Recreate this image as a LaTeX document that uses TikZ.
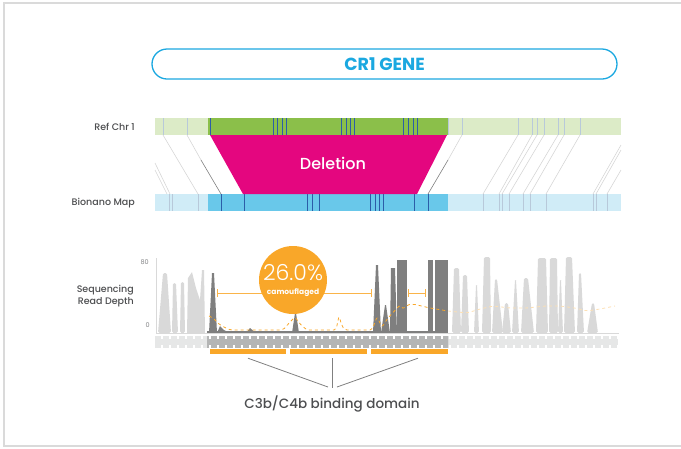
\documentclass[tikz,border=0pt]{standalone}
\usepackage{fontspec}
\setmainfont{Poppins}
\newfontfamily\medfont{Poppins Medium}
\newfontfamily\lightfont{Poppins Light}
\usepackage{tikz}
\usetikzlibrary{calc,arrows.meta}

\definecolor{framegray}{HTML}{DADADA}
\definecolor{crblue}{HTML}{1BA8E0}
\definecolor{refgreen}{HTML}{DCEBC7}
\definecolor{delgreen}{HTML}{8BBF4A}
\definecolor{mapblue}{HTML}{D0ECF7}
\definecolor{delblue}{HTML}{69C8EA}
\definecolor{tickblue}{HTML}{2C5DA8}
\definecolor{lighttick}{HTML}{B8C9DA}
\definecolor{alignline}{HTML}{D6D6D6}
\definecolor{delpink}{HTML}{E4067F}
\definecolor{camorange}{HTML}{F9A729}
\definecolor{covlight}{HTML}{D9D9D9}
\definecolor{covdark}{HTML}{7F7F7F}
\definecolor{exlight}{HTML}{E6E7E7}
\definecolor{exdark}{HTML}{B4B5B5}
\definecolor{labelgray}{HTML}{4D4E50}

\tikzset{
  rowlabel/.style={anchor=east, inner sep=0pt, text=labelgray, font=\medfont\fontsize{9.5}{12}\selectfont},
  axislabel/.style={anchor=east, inner sep=0pt, text=labelgray!70, font=\fontsize{6.5}{7}\selectfont},
  refbar/.style={fill=refgreen},
  mapbar/.style={fill=mapblue},
  darktick/.style={draw=tickblue, line width=0.9pt},
  lighttk/.style={draw=lighttick, line width=0.7pt},
  aligned/.style={draw=alignline, line width=0.6pt},
  dombar/.style={fill=camorange, inner sep=0pt, minimum height=5pt},
  bracket/.style={draw=camorange!85, line width=0.9pt, {Bar[width=8pt]}-{Bar[width=8pt]}},
}

\begin{document}
\begin{tikzpicture}[x=1pt, y=-1pt]
    \useasboundingbox (0,0) rectangle (681,448);
    % frame
    \draw[framegray, line width=1.5pt] (681,3) -- (4,3) -- (4,446) -- (681,446);

    % title
    \node[draw=crblue, line width=1.3pt, rounded corners=15pt, minimum width=465pt, minimum height=30pt,
          text=crblue, font=\bfseries\fontsize{17.5}{19}\selectfont] (gene) at (384.5,64) {CR1 GENE};

    % reference and map rows
    \node[rowlabel] (reflabel) at (135,127) {Ref Chr 1};
    \node[rowlabel] (maplabel) at (135,203) {Bionano Map};

    \fill[refbar] (155,118) rectangle (621,135);
    \fill[delgreen] (208,118) rectangle (448,135);
    \fill[mapbar] (155,194) rectangle (621,211);
    \fill[delblue] (208,194) rectangle (448,211);

    \foreach \x in {163,187,448,462,518,532,537,544,558,564,580} \draw[lighttk] (\x,118) -- (\x,135);
    \foreach \x in {210,273,277,282,286,341,346,350,354,403,408,413,417} \draw[darktick] (\x,118) -- (\x,135);
    \foreach \x in {169,172,198,483,499,502,509,523,530,546,593,596,607} \draw[lighttk] (\x,194) -- (\x,211);
    \foreach \x in {221,244,307,312,319,370,375,379,383,414,428} \draw[darktick] (\x,194) -- (\x,211);

    % alignments
    \foreach \a/\b in {163/198,518/483,532/499,537/502,544/509,558/523,564/530,580/546}
        \draw[aligned] (\a,135) -- (\b,194);
    \draw[aligned] (155,163) -- (170,194);
    \draw[aligned] (155,170) -- (167,194);
    \draw[aligned] (621,145) -- (593,194);
    \draw[aligned] (621,150) -- (596,194);
    \draw[aligned] (621,170) -- (607,194);
    \draw[aligned] (187,135) -- (201,160);
    \draw[gray, line width=0.6pt] (201,160) -- (221,194);
    \draw[aligned] (462,135) -- (448,160);
    \draw[gray, line width=0.6pt] (448,160) -- (428,194);

    % deletion
    \fill[delpink] (210,135) -- (447,135) -- (417,194) -- (243,194) -- cycle;
    \node[text=white, font=\medfont\fontsize{16}{18}\selectfont] (deletion) at (333,163) {Deletion};

    % coverage
    \node[rowlabel, align=right] (depthlabel) at (134,296) {Sequencing\\Read Depth};
    \node[axislabel] (top) at (149,262) {80};
    \node[axislabel] (zero) at (150,325) {0};

    \foreach \a/\b/\c/\d/\h in {158/163/167/171/273,172/173/176/178/283,180/181/184/185/282,
        452/454/459/461/268,461/463/467/469/275,474/476/477/479/285,482/484/490/491/257,
        492/495/497/503/279,502/505/508/511/303,512/515/516/519/280,521/524/528/534/278,
        536/538/546/548/258,549/550/557/558/258,558/560/561/563/280,564/566/572/575/257,
        577/579/581/584/273,587/592/594/598/303}
        \fill[covlight, rounded corners=1.5pt] (\a,333) -- (\b,\h) -- (\c,\h) -- (\d,333) -- cycle;
    \fill[covlight] (187,333) -- (188,278) -- (192,272) -- (196,288) -- (200,300) -- (202,270) -- (204,270) -- (205,333) -- cycle;

    \foreach \a/\b/\c/\d/\h in {209/212/214/217/273,292/295/296/299/313,373/376/378/381/265,
        381/385/386/390/305,390/391/395/397/268,397/397/407/407/260,428/428/433/433/260,435/435/448/448/260}
        \fill[covdark] (\a,333) -- (\b,\h) -- (\c,\h) -- (\d,333) -- cycle;
    \fill[covdark] (207,333) rectangle (448,331);
    \fill[covdark] (217,333) -- (220,326) -- (224,330) -- (230,333) -- cycle;
    \fill[covdark] (246,333) -- (250,328) -- (256,333) -- cycle;

    \draw[covlight, line width=0.8pt] (156,258) -- (156,333) -- (619,333);

    \draw[camorange, dashed, line width=0.8pt, rounded corners=2pt]
        (209,316) -- (213,318) -- (220,325) -- (230,330) -- (283,330) -- (290,322) -- (295,317)
        -- (300,324) -- (307,330) -- (336,330) -- (339,316) -- (342,326) -- (345,330) -- (372,330)
        -- (377,317) -- (382,327) -- (388,318) -- (400,305) -- (403,309) -- (407,305) -- (413,304)
        -- (430,308) -- (448,311);
    \draw[camorange!35, dashed, line width=0.8pt, rounded corners=2pt]
        (448,311) -- (467,313) -- (480,309) -- (493,306) -- (510,308) -- (527,308) -- (545,306)
        -- (560,306) -- (575,308) -- (587,311) -- (600,309) -- (615,306);

    \draw[bracket] (217,293) -- (372,293);
    \draw[bracket] (408,293) -- (426,293);
    \node[circle, fill=camorange, minimum size=68pt, inner sep=0pt, text=white, align=center] (camo) at (293,280)
        {{\lightfont\fontsize{22}{22}\selectfont 26.0\%}\\[2pt]{\bfseries\fontsize{7.5}{8}\selectfont camouflaged}};

    % exons
    \fill[exlight] (155,339) rectangle (618,345);
    \foreach \x in {155,163,...,611} \fill[exlight] (\x,336) rectangle ({\x+6},348);
    \begin{scope}
        \clip (207,330) rectangle (448,350);
        \fill[exdark] (155,339) rectangle (618,345);
        \foreach \x in {155,163,...,611} \fill[exdark] (\x,336) rectangle ({\x+6},348);
    \end{scope}

    % binding domains
    \node[dombar, minimum width=76pt] (dom1) at (248,351.5) {};
    \node[dombar, minimum width=77pt] (dom2) at (328.5,351.5) {};
    \node[dombar, minimum width=77pt] (dom3) at (409.5,351.5) {};
    \node[text=labelgray, font=\medfont\fontsize{13.5}{15}\selectfont] (domain) at (332,404) {C3b/C4b binding domain};
    \coordinate (tip1) at (328,387);
    \coordinate (tip2) at (332,388);
    \coordinate (tip3) at (337,387);
    \draw[gray, line width=0.8pt] ($(dom1.south)+(0,4)$) -- (tip1);
    \draw[gray, line width=0.8pt] ($(dom2.south)+(3.5,4)$) -- (tip2);
    \draw[gray, line width=0.8pt] ($(dom3.south)+(8.5,4)$) -- (tip3);
\end{tikzpicture}
\end{document}
